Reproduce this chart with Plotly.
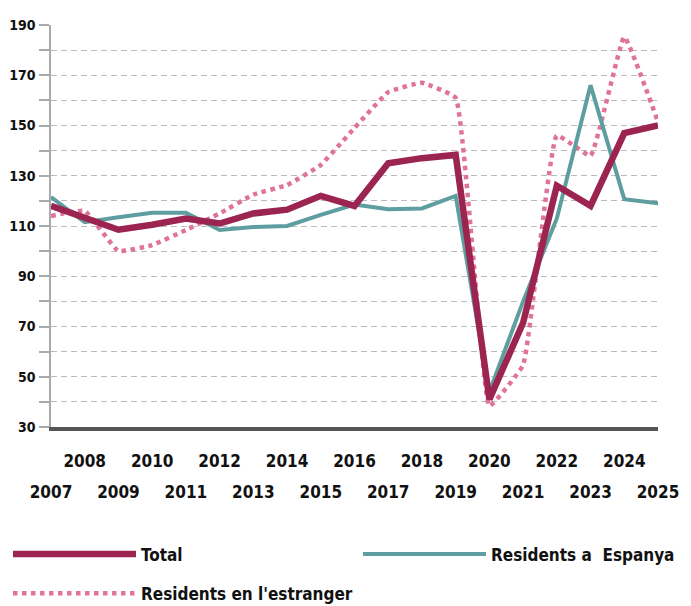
import plotly.graph_objects as go

years = list(range(2007, 2026))
total = [118, 113, 108.5, 110.5, 113, 111, 115, 116.5, 122, 118, 135, 137, 138.3, 41, 71.5, 126, 118, 147, 150]
espanya = [121.5, 111.5, 113.5, 115.3, 115.3, 108.4, 109.6, 110, 114.4, 118.5, 116.7, 117, 122, 44, 80, 113, 166, 120.7, 119]
estranger = [114, 116, 100, 102.4, 108.4, 115, 122.5, 126.3, 134.3, 149, 163.3, 167, 161, 38.4, 54.7, 146, 138, 185.2, 151.4]

even_years = [y for y in years if y % 2 == 0]
odd_years = [y for y in years if y % 2 == 1]
y_ticks = list(range(30, 191, 20))

FONT = "'DejaVu Sans Condensed', 'DejaVu Sans', sans-serif"
C_TOTAL = "#9B2550"
C_ESP = "#5F9EA0"
C_EST = "#E07399"

fig = go.Figure()
fig.add_trace(go.Scatter(x=years, y=estranger, name="Residents en l'estranger", mode="lines",
                         legend="legend", legendgroup="c", legendrank=2,
                         line=dict(color=C_EST, width=4.5, dash="dot", shape="spline", smoothing=0.3)))
fig.add_trace(go.Scatter(x=years, y=espanya, name="Residents a  Espanya", mode="lines",
                         legend="legend2", legendgroup="b",
                         line=dict(color=C_ESP, width=4)))
fig.add_trace(go.Scatter(x=years, y=total, name="Total", mode="lines",
                         legend="legend", legendgroup="a", legendrank=1,
                         line=dict(color=C_TOTAL, width=6.5)))
# carrier for the second (staggered) row of year labels; draws nothing
fig.add_trace(go.Scatter(x=odd_years, y=[None] * len(odd_years), xaxis="x2", mode="lines",
                         showlegend=False, hoverinfo="skip"))

legend_font = dict(family=FONT, size=17, color="#111111", weight="bold")
fig.update_layout(
    width=683, height=598,
    margin=dict(l=43, r=33, t=17, b=179),
    plot_bgcolor="white", paper_bgcolor="white",
    font=dict(family=FONT, size=17, color="#111111", weight="bold"),
    showlegend=True,
    legend=dict(orientation="v", xref="paper", yref="container",
                x=-0.0725, xanchor="left", y=0.1162, yanchor="top",
                traceorder="grouped", tracegroupgap=14, itemwidth=123,
                font=legend_font, bgcolor="rgba(0,0,0,0)"),
    legend2=dict(orientation="v", xref="paper", yref="container",
                 x=0.5058, xanchor="left", y=0.1162, yanchor="top",
                 itemwidth=123, font=legend_font, bgcolor="rgba(0,0,0,0)"),
    xaxis=dict(
        range=[2007, 2025], tickmode="array", tickvals=even_years, tickangle=0,
        showgrid=False, zeroline=False, showline=True, linecolor="#555555", linewidth=4,
        ticks="", ticklabelstandoff=16, automargin=False,
        tickfont=dict(family=FONT, size=17, color="#111111", weight="bold"),
    ),
    xaxis2=dict(
        range=[2007, 2025], tickmode="array", tickvals=odd_years, tickangle=0,
        overlaying="x", anchor="y", side="bottom",
        showgrid=False, zeroline=False, showline=False,
        ticks="", ticklabelstandoff=53, automargin=False,
        tickfont=dict(family=FONT, size=17, color="#111111", weight="bold"),
    ),
)
fig.update_yaxes(
    range=[30, 190], tickmode="array", tickvals=y_ticks, automargin=False,
    showgrid=True, gridcolor="#BBBBBB", gridwidth=1.2, griddash="6px,4px",
    zeroline=False, showline=True, linecolor="#AAAAAA", linewidth=1.5,
    ticks="outside", ticklen=10, tickcolor="#AAAAAA", tickwidth=1.5,
    ticklabelstandoff=1,
    minor=dict(dtick=10, tick0=30, showgrid=True, gridcolor="#BBBBBB", gridwidth=1.2,
               griddash="6px,4px", ticks="outside", ticklen=10, tickcolor="#AAAAAA", tickwidth=1.5),
    tickfont=dict(family=FONT, size=14, color="#111111", weight="bold"),
)

fig.write_html("out.html")
